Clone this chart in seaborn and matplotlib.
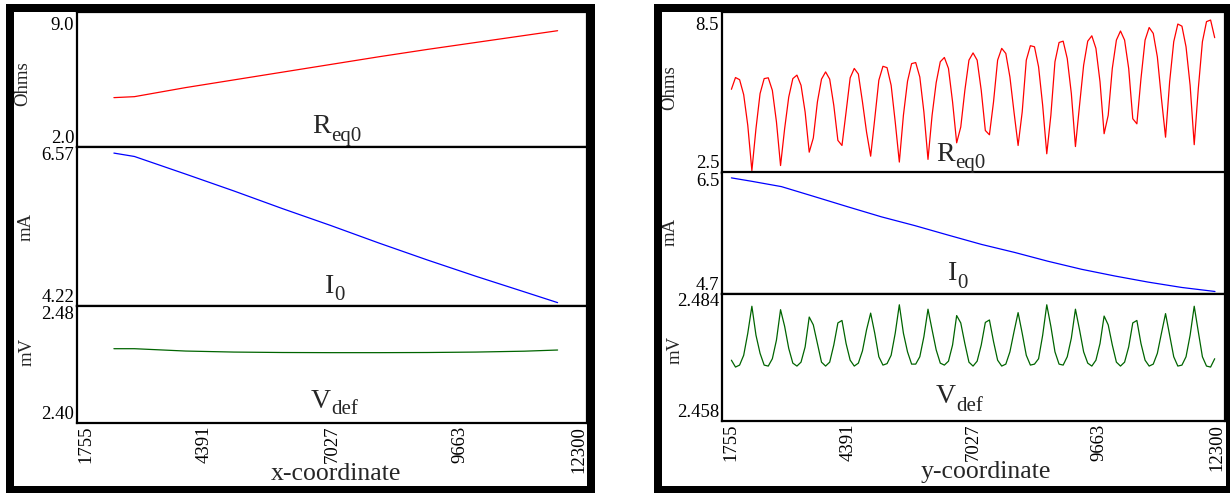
import numpy as np
import pandas as pd
import seaborn as sns
import matplotlib
matplotlib.use("Agg")
import matplotlib.pyplot as plt
from matplotlib.patches import Rectangle
from matplotlib.transforms import ScaledTranslation

# ---------------- data ----------------
x_ticks = [1755, 4391, 7027, 9663, 12300]
x_tick_labels = ["1755", "4391", "7027", "9663", "12300"]

# left panel (x-coordinate sweep)
x_left = [2518, 2942, 4000, 5000, 6000, 7000, 8000, 9000, 10000, 11000, 11692]
req0_left = [4.56, 4.61, 5.08, 5.48, 5.88, 6.28, 6.68, 7.06, 7.42, 7.78, 8.03]
i0_left = [6.48, 6.43, 6.17, 5.92, 5.66, 5.41, 5.15, 4.90, 4.66, 4.43, 4.27]
vdef_left = [2.4508, 2.4508, 2.4492, 2.4485, 2.4482, 2.4481, 2.4481, 2.4482, 2.4485, 2.4491, 2.4499]

# right panel (y-coordinate sweep)
y_start, y_stop = 1952, 12084
req0_right = [
    5.61, 6.05, 5.97, 5.41, 4.26, 2.57, 4.14, 5.45, 6.01, 6.04, 5.57, 4.39, 2.76, 4.14, 5.32, 6.01,
    6.14, 5.76, 4.76, 3.26, 3.79, 5.14, 5.99, 6.26, 5.99, 5.01, 3.70, 3.51, 4.76, 6.04, 6.39, 6.18,
    5.14, 4.01, 3.11, 4.51, 5.95, 6.47, 6.42,
    5.76, 4.39, 2.89, 4.64, 5.91, 6.57, 6.61, 6.07, 4.76, 2.99, 4.64, 5.86, 6.64, 6.80, 6.39, 5.14,
    3.61, 4.20, 5.57, 6.70, 6.97, 6.70, 5.57, 4.07, 3.91, 5.14, 6.70, 7.14, 6.95, 6.07, 4.76, 3.51,
    4.76, 6.70, 7.24, 7.20, 6.45, 5.01, 3.20, 4.64,
    6.64, 7.36, 7.41, 6.76, 5.45, 3.47, 5.01, 6.51, 7.41, 7.61, 7.14, 5.89, 3.95, 4.64, 6.39, 7.45,
    7.79, 7.45, 6.39, 4.51, 4.32, 6.01, 7.45, 7.92, 7.70, 6.82, 5.26, 3.82, 5.89, 7.39, 8.05, 7.97,
    7.20, 5.76, 3.54, 5.64, 7.39, 8.14, 8.20, 7.54,
]
vdef_right = [
    2.4704, 2.4690, 2.4694, 2.4714, 2.4759, 2.4814, 2.4755, 2.4718, 2.4694, 2.4692, 2.4707, 2.4745,
    2.4807, 2.4773, 2.4728, 2.4698, 2.4692, 2.4700, 2.4731, 2.4792, 2.4776, 2.4738, 2.4700, 2.4692,
    2.4700, 2.4735, 2.4780, 2.4785, 2.4738, 2.4704, 2.4692, 2.4698, 2.4723, 2.4766, 2.4800, 2.4759,
    2.4711, 2.4694, 2.4697,
    2.4714, 2.4759, 2.4817, 2.4759, 2.4721, 2.4696, 2.4696, 2.4711, 2.4752, 2.4808, 2.4766, 2.4725,
    2.4698, 2.4694, 2.4702, 2.4735, 2.4795, 2.4780, 2.4738, 2.4700, 2.4692, 2.4702, 2.4735, 2.4781,
    2.4786, 2.4742, 2.4704, 2.4692, 2.4696, 2.4721, 2.4762, 2.4801, 2.4759, 2.4714, 2.4694, 2.4696,
    2.4707, 2.4755, 2.4817, 2.4773,
    2.4721, 2.4696, 2.4694, 2.4711, 2.4749, 2.4808, 2.4766, 2.4721, 2.4698, 2.4692, 2.4704, 2.4738,
    2.4794, 2.4776, 2.4735, 2.4700, 2.4692, 2.4700, 2.4731, 2.4780, 2.4785, 2.4738, 2.4704, 2.4692,
    2.4696, 2.4718, 2.4759, 2.4799, 2.4755, 2.4711, 2.4692, 2.4694, 2.4711, 2.4755, 2.4814, 2.4762,
    2.4711, 2.4692, 2.4690, 2.4707,
]
y_right = np.linspace(y_start, y_stop, len(req0_right))

x_i0_right = [1952, 2372, 3001, 3700, 4392, 5099, 5797, 6490, 7196, 7895, 8587, 9294, 9993, 10685, 11392, 12090]
i0_right = [6.42, 6.37, 6.29, 6.14, 5.99, 5.84, 5.71, 5.57, 5.43, 5.31, 5.18, 5.06, 4.96, 4.87, 4.79, 4.73]

# ---------------- style ----------------
sns.set_theme(style="white")
plt.rcParams["font.family"] = ["Liberation Serif", "DejaVu Serif"]

W, H = 1230, 493
fig = plt.figure(figsize=(W / 100, H / 100), dpi=100)
fig.patch.set_facecolor("white")

RED, BLUE, GREEN = "#ff0000", "#0000ff", "#006400"
TICK_FS, LAB_FS, MAIN_FS, SUB_FS, XLAB_FS = 13.5, 13.5, 20, 15, 18.5


def px_axes(l, r, t, b):
    return fig.add_axes([l / W, 1 - b / H, (r - l) / W, (b - t) / H])


def style_axes(ax, lo, hi, ylabels, bottom, top_shift=0):
    ax.set_facecolor("white")
    for s in ax.spines.values():
        s.set_color("black")
        s.set_linewidth(1.6)
    ax.set_xlim(x_ticks[0], x_ticks[-1])
    ax.set_ylim(lo, hi)
    ax.set_yticks([lo, hi])
    ax.set_yticklabels(ylabels)
    ax.set_xticks(x_ticks)
    ax.tick_params(axis="y", length=0, pad=2, labelsize=TICK_FS, colors="black")
    ax.tick_params(axis="x", length=0, pad=2, labelsize=TICK_FS, colors="black")
    tl = ax.get_yticklabels()
    tl[0].set_va("bottom")
    tl[1].set_va("top")
    if top_shift:
        tl[1].set_transform(tl[1].get_transform()
                            + ScaledTranslation(0, -top_shift / 100, fig.dpi_scale_trans))
    ax.set_xlabel("")
    if bottom:
        ax.set_xticklabels(x_tick_labels, rotation=90)
        xl = ax.get_xticklabels()
        xl[0].set_ha("left")
        xl[-1].set_ha("right")
    else:
        ax.tick_params(axis="x", labelbottom=False)
    ax.grid(False)


def ylabel(ax, text, xf, yf):
    ax.set_ylabel(text, fontsize=LAB_FS, va="center", ha="center", rotation=90)
    ax.yaxis.set_label_coords(xf, yf)


def sub_label(xj, base_main, base_sub, main, sub):
    fig.text(xj / W, 1 - base_main / H, main, fontsize=MAIN_FS, ha="right", va="baseline")
    fig.text(xj / W, 1 - base_sub / H, sub, fontsize=SUB_FS, ha="left", va="baseline")


def xlab(xc, base, s):
    fig.text(xc / W, 1 - base / H, s, fontsize=XLAB_FS, ha="center", va="baseline")


# ---------------- left panel ----------------
L, R = 77, 587
axL1 = px_axes(L, R, 12, 147)
axL2 = px_axes(L, R, 147, 306)
axL3 = px_axes(L, R, 306, 423)

sns.lineplot(x=x_left, y=req0_left, ax=axL1, color=RED, linewidth=0.9)
sns.lineplot(x=x_left, y=i0_left, ax=axL2, color=BLUE, linewidth=0.9)
sns.lineplot(x=x_left, y=vdef_left, ax=axL3, color=GREEN, linewidth=0.9)

style_axes(axL1, 2.0, 9.0, ["2.0", "9.0"], False, top_shift=5)
style_axes(axL2, 4.22, 6.57, ["4.22", "6.57"], False)
style_axes(axL3, 2.40, 2.48, ["2.40", "2.48"], True)
ylabel(axL1, "Ohms", -0.106, 0.467)
ylabel(axL2, "mA", -0.100, 0.497)
ylabel(axL3, "mV", -0.097, 0.607)

sub_label(331, 133.3, 141.0, "R", "eq0")
sub_label(334, 293.3, 300.0, "I", "0")
sub_label(331, 408.3, 413.5, "V", "def")
xlab(336, 480, "x-coordinate")

# ---------------- right panel ----------------
L2, R2 = 722, 1225
axR1 = px_axes(L2, R2, 12, 172.5)
axR2 = px_axes(L2, R2, 172.5, 293.5)
axR3 = px_axes(L2, R2, 293.5, 421)

sns.lineplot(x=y_right, y=req0_right, ax=axR1, color=RED, linewidth=0.9)
sns.lineplot(x=x_i0_right, y=i0_right, ax=axR2, color=BLUE, linewidth=0.9)
sns.lineplot(x=y_right, y=vdef_right, ax=axR3, color=GREEN, linewidth=0.9)

style_axes(axR1, 2.5, 8.5, ["2.5", "8.5"], False, top_shift=5)
style_axes(axR2, 4.7, 6.5, ["4.7", "6.5"], False)
style_axes(axR3, 2.458, 2.484, ["2.458", "2.484"], True)
ylabel(axR1, "Ohms", -0.104, 0.53)
ylabel(axR2, "mA", -0.104, 0.51)
ylabel(axR3, "mV", -0.094, 0.56)

sub_label(955, 160.7, 168.0, "R", "eq0")
sub_label(957.5, 280, 287.5, "I", "0")
sub_label(956, 403.3, 411.0, "V", "def")
xlab(986, 478, "y-coordinate")

# ---------------- thick frames ----------------
FRAME_LW = 8 * 72 / 100
for x0, x1, y0, y1 in [(10, 591, 7.5, 489.5), (658, 1230, 8, 489.5)]:
    fig.patches.append(
        Rectangle((x0 / W, 1 - y1 / H), (x1 - x0) / W, (y1 - y0) / H,
                  transform=fig.transFigure, fill=False, lw=FRAME_LW,
                  ec="black", zorder=10)
    )

fig.savefig("out.png", dpi=100, facecolor="white")
